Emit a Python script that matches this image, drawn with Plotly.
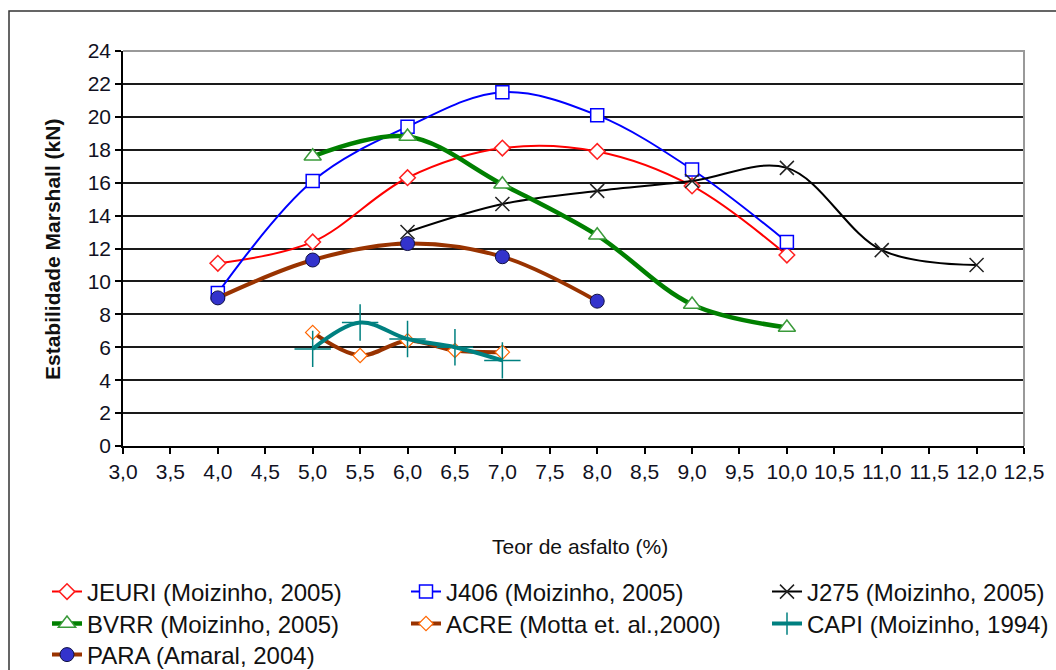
import plotly.graph_objects as go

# ---- data ----
x_jeuri = [4.0, 5.0, 6.0, 7.0, 8.0, 9.0, 10.0]
y_jeuri = [11.1, 12.4, 16.3, 18.1, 17.9, 15.8, 11.6]

x_j406 = [4.0, 5.0, 6.0, 7.0, 8.0, 9.0, 10.0]
y_j406 = [9.3, 16.1, 19.4, 21.5, 20.1, 16.8, 12.4]

x_j275 = [6.0, 7.0, 8.0, 9.0, 10.0, 11.0, 12.0]
y_j275 = [13.0, 14.7, 15.5, 16.1, 16.9, 11.9, 11.0]

x_bvrr = [5.0, 6.0, 7.0, 8.0, 9.0, 10.0]
y_bvrr = [17.6, 18.8, 15.9, 12.8, 8.6, 7.2]

x_acre = [5.0, 5.5, 6.0, 6.5, 7.0]
y_acre = [6.9, 5.5, 6.4, 5.8, 5.7]

x_capi = [5.0, 5.5, 6.0, 6.5, 7.0]
y_capi = [5.9, 7.5, 6.5, 6.0, 5.2]

x_para = [4.0, 5.0, 6.0, 7.0, 8.0]
y_para = [9.0, 11.3, 12.3, 11.5, 8.8]

x_tickvals = [3.0 + 0.5 * i for i in range(20)]
x_ticktext = ["3,0", "3,5", "4,0", "4,5", "5,0", "5,5", "6,0", "6,5", "7,0", "7,5",
              "8,0", "8,5", "9,0", "9,5", "10,0", "10,5", "11,0", "11,5", "12,0", "12,5"]
y_tickvals = [0, 2, 4, 6, 8, 10, 12, 14, 16, 18, 20, 22, 24]

names = ["JEURI (Moizinho, 2005)", "J406 (Moizinho, 2005)", "J275 (Moizinho, 2005)",
         "BVRR (Moizinho, 2005)", "ACRE (Motta et. al.,2000)", "CAPI (Moizinho, 1994)",
         "PARA (Amaral, 2004)"]

W, H = 1056, 670
L, R, T, B = 123, 32, 51, 224
PW, PH = W - L - R, H - T - B

def px(xp):
    return (xp - L) / PW

def py(yp):
    return (H - B - yp) / PH

fig = go.Figure()

def add(x, y, name, lg, lc, lw, sym, ms, mfill, mline, mlw):
    fig.add_trace(go.Scatter(
        x=x, y=y, name=name, mode="lines+markers", legend=lg,
        line=dict(color=lc, width=lw, shape="spline", smoothing=1.0),
        marker=dict(symbol=sym, size=ms, color=mfill,
                    line=dict(color=mline, width=mlw)),
    ))

add(x_jeuri, y_jeuri, names[0], "legend", "#ff0000", 2, "diamond", 12, "white", "#ff2020", 1.5)
add(x_j406, y_j406, names[1], "legend2", "#0000ff", 2, "square", 13, "white", "#0000ff", 1.5)
add(x_j275, y_j275, names[2], "legend3", "#000000", 2, "x-thin-open", 14, "#222222", "#222222", 1.5)
add(x_bvrr, y_bvrr, names[3], "legend4", "#008000", 4.5, "triangle-up", 15, "white", "#3a9a3a", 1.5)
add(x_acre, y_acre, names[4], "legend5", "#993300", 4, "diamond", 11, "white", "#ff6600", 1.2)
add(x_capi, y_capi, names[5], "legend6", "#008080", 4, "cross-thin-open", 26, "#008080", "#008080", 1.5)
add(x_para, y_para, names[6], "legend7", "#993300", 4, "circle", 14, "#3333cc", "#111144", 1)

font_main = "Liberation Sans, Arial, sans-serif"

def leg(xp, yp):
    return dict(
        orientation="v", x=px(xp), xanchor="left", y=py(yp), yanchor="middle",
        font=dict(family=font_main, size=24, color="#111111"),
        bgcolor="rgba(0,0,0,0)",
    )

col_x = [47, 406, 767]
row_y = [592, 624, 655]

fig.update_layout(
    width=W, height=H,
    margin=dict(l=L, r=R, t=T, b=B, autoexpand=False),
    paper_bgcolor="white", plot_bgcolor="white",
    font=dict(family=font_main, size=15, color="#111111"),
    showlegend=True,
    legend=leg(col_x[0], row_y[0]),
    legend2=leg(col_x[1], row_y[0]),
    legend3=leg(col_x[2], row_y[0]),
    legend4=leg(col_x[0], row_y[1]),
    legend5=leg(col_x[1], row_y[1]),
    legend6=leg(col_x[2], row_y[1]),
    legend7=leg(col_x[0], row_y[2]),
    xaxis=dict(
        range=[3.0, 12.5], tickvals=x_tickvals, ticktext=x_ticktext,
        showgrid=False, zeroline=False,
        showline=True, linecolor="#000000", linewidth=1.5,
        ticks="outside", ticklen=6, tickcolor="#000000", tickwidth=1.5,
        tickfont=dict(family=font_main, size=21, color="#111122"),
    ),
    yaxis=dict(
        range=[0, 24], tickvals=y_tickvals,
        showgrid=True, gridcolor="#1a1a1a", gridwidth=1.5,
        zeroline=False,
        showline=True, linecolor="#000000", linewidth=1.5,
        ticks="outside", ticklen=6, tickcolor="#000000", tickwidth=1.5,
        tickfont=dict(family=font_main, size=21, color="#111122"),
    ),
    annotations=[
        dict(text="Teor de asfalto (%)", x=px(580), y=py(546), xref="paper", yref="paper",
             showarrow=False, font=dict(family=font_main, size=21, color="#111111"),
             xanchor="center", yanchor="middle"),
        dict(text="<b>Estabilidade Marshall (kN)</b>", x=px(52), y=py(250),
             xref="paper", yref="paper", textangle=-90, showarrow=False,
             font=dict(family=font_main, size=21, color="#111111"),
             xanchor="center", yanchor="middle"),
    ],
    shapes=[
        dict(type="path", xref="paper", yref="paper",
             path="M 0,1 L 1,1 L 1,0", line=dict(color="#999999", width=2), layer="above"),
        dict(type="rect", xref="paper", yref="paper",
             x0=px(9), x1=px(1060), y0=py(675), y1=py(11),
             line=dict(color="#333333", width=1.5), layer="below"),
    ],
)

fig.write_html("out.html", config={"displayModeBar": False},
               post_script="document.body.style.margin='0';document.body.style.overflow='hidden';")
